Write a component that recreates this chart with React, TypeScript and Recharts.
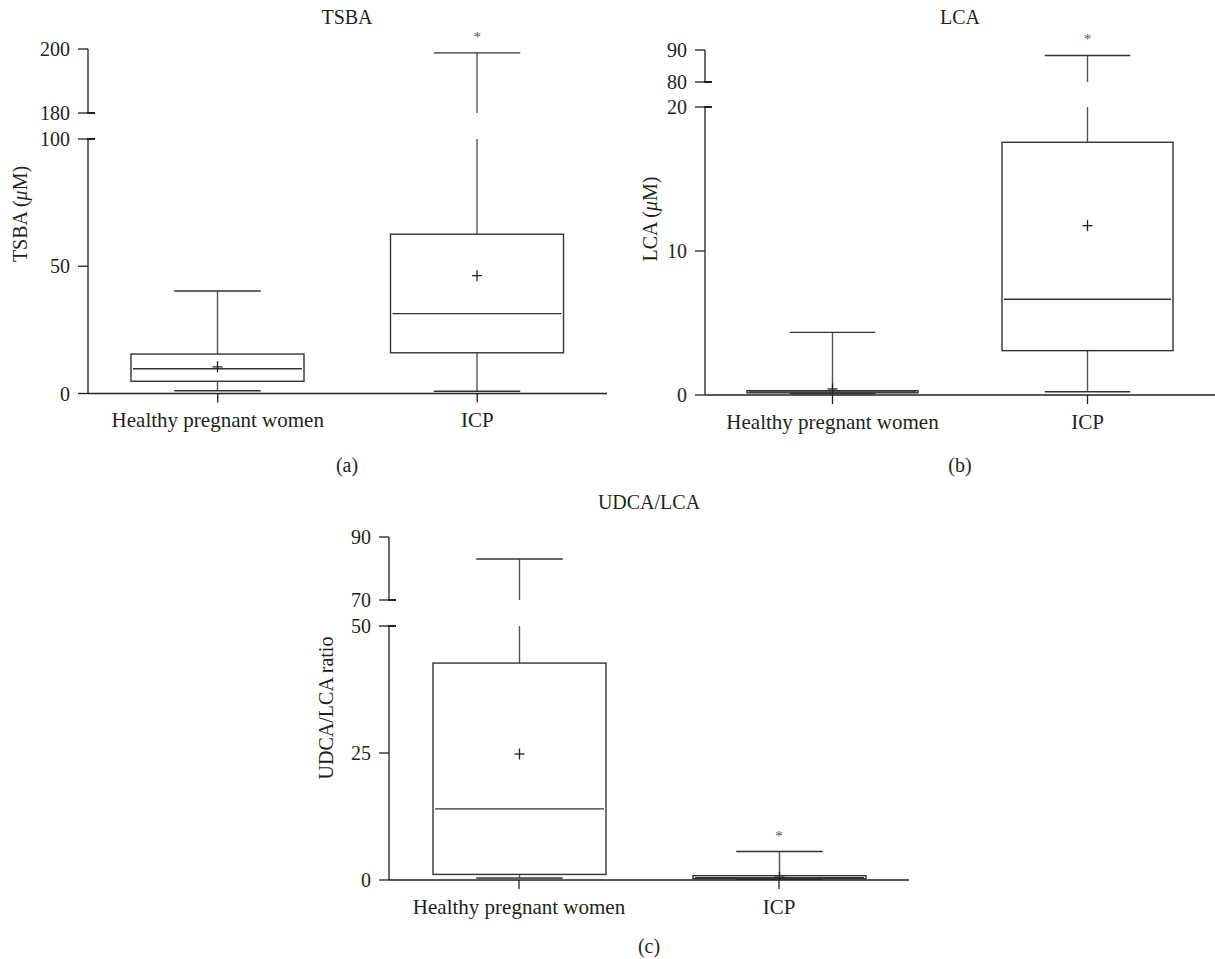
import React from 'react';
import { ComposedChart, Bar, XAxis, YAxis, ReferenceDot } from 'recharts';

// ---------- data ----------
const categories = ['Healthy pregnant women', 'ICP'];

// (a) TSBA (µM)
const tsbaMin = [1.1, 0.9];
const tsbaQ1 = [4.8, 16.0];
const tsbaMedian = [9.7, 31.4];
const tsbaQ3 = [15.5, 62.6];
const tsbaMax = [40.3, 198.8];
const tsbaMean = [10.5, 46.3];
const tsbaLowerTicks = [0, 50, 100];
const tsbaUpperTicks = [180, 200];
const tsbaStars = ['ICP'];

// (b) LCA (µM)
const lcaMin = [0.1, 0.23];
const lcaQ1 = [0.15, 3.08];
const lcaMedian = [0.22, 6.65];
const lcaQ3 = [0.3, 17.55];
const lcaMax = [4.35, 88.3];
const lcaMean = [0.42, 11.76];
const lcaLowerTicks = [0, 10, 20];
const lcaUpperTicks = [80, 90];
const lcaStars = ['ICP'];

// (c) UDCA/LCA ratio
const ratioMin = [0.4, 0.08];
const ratioQ1 = [1.1, 0.25];
const ratioMedian = [14.0, 0.45];
const ratioQ3 = [42.7, 0.85];
const ratioMax = [83, 5.6];
const ratioMean = [24.8, 0.55];
const ratioLowerTicks = [0, 25, 50];
const ratioUpperTicks = [70, 90];
const ratioStars = ['ICP'];

// ---------- styling ----------
const FONT = '"Liberation Serif", "DejaVu Serif", serif';
const INK = '#231f20';
const BOX = '#333333';
const WHISK = '#555555';

type Row = {
  name: string;
  range: [number, number];
  min: number;
  q1: number;
  median: number;
  q3: number;
  max: number;
  mean: number;
};

function buildRows(
  min: number[], q1: number[], median: number[], q3: number[], max: number[], mean: number[]
): Row[] {
  return categories.map((name, i) => ({
    name,
    range: [min[i], max[i]],
    min: min[i],
    q1: q1[i],
    median: median[i],
    q3: q3[i],
    max: max[i],
    mean: mean[i],
  }));
}

function BoxShape(props: any) {
  const { x, y, width, height, payload } = props;
  if (x == null || y == null || !payload) return null;
  const { min, q1, median, q3, max, mean } = payload as Row;
  const span = max - min;
  // linear scale recovered from the library's own pixel positions of min and max
  const py = (v: number) => y + ((max - v) / span) * height;
  const cx = x + width / 2;
  const cap = width / 4;
  const sw = 1.4;
  return (
    <g>
      <line x1={cx} x2={cx} y1={py(max)} y2={py(q3)} stroke={WHISK} strokeWidth={sw} />
      <line x1={cx - cap} x2={cx + cap} y1={py(max)} y2={py(max)} stroke={BOX} strokeWidth={sw} />
      <line x1={cx} x2={cx} y1={py(q1)} y2={py(min)} stroke={WHISK} strokeWidth={sw} />
      <line x1={cx - cap} x2={cx + cap} y1={py(min)} y2={py(min)} stroke={BOX} strokeWidth={sw} />
      <rect
        x={x}
        y={py(q3)}
        width={width}
        height={Math.max(py(q1) - py(q3), 0.5)}
        fill="#ffffff"
        stroke={BOX}
        strokeWidth={sw}
      />
      <line x1={x + 2} x2={x + width - 2} y1={py(median)} y2={py(median)} stroke={BOX} strokeWidth={sw} />
      <line x1={cx - 5} x2={cx + 5} y1={py(mean)} y2={py(mean)} stroke={INK} strokeWidth={1.3} />
      <line x1={cx} x2={cx} y1={py(mean) - 5.5} y2={py(mean) + 5.5} stroke={INK} strokeWidth={1.3} />
    </g>
  );
}

const YW = 60;
const ML = 10;
const AXIS_X = ML + YW;

const makeYTick = (breakVal: number) => (props: any) => {
  const { x, y, payload } = props;
  return (
    <g>
      <text x={x} y={y} dy="0.36em" textAnchor="end" fontFamily={FONT} fontSize={20} fill={INK}>
        {payload.value}
      </text>
      {payload.value === breakVal ? (
        <line x1={AXIS_X - 1} x2={AXIS_X + 7} y1={y} y2={y} stroke={INK} strokeWidth={2} />
      ) : null}
    </g>
  );
};

const StarShape = (p: any) => (
  <text x={p.cx} y={p.cy - 11} textAnchor="middle" fontFamily={FONT} fontSize={15} fill="#555">
    *
  </text>
);

type PanelProps = {
  rows: Row[];
  plotLeft: number;
  plotRight: number;
  upperTop: number;
  upperBottom: number;
  lowerTop: number;
  lowerBottom: number;
  upperDomain: [number, number];
  lowerDomain: [number, number];
  upperTicks: number[];
  lowerTicks: number[];
  stars: string[];
  boxWidth: number;
};

function BrokenBoxPanel(p: PanelProps) {
  const chartLeft = p.plotLeft - YW - ML;
  const width = p.plotRight - chartLeft;
  const UT = 30;
  const UB = 13;
  const upperH = UT + (p.upperBottom - p.upperTop) + UB;
  const LT = 11;
  const XH = 56;
  const lowerH = LT + (p.lowerBottom - p.lowerTop) + XH;

  const starsUpper = p.stars.filter((c) => {
    const r = p.rows.find((row) => row.name === c);
    return r && r.max >= p.upperDomain[0];
  });
  const starsLower = p.stars.filter((c) => !starsUpper.includes(c));

  const axisLine = { stroke: INK, strokeWidth: 1.3 };
  const tickLine = { stroke: INK, strokeWidth: 1.3 };

  return (
    <>
      <div style={{ position: 'absolute', left: chartLeft, top: p.upperTop - UT }}>
        <ComposedChart
          width={width}
          height={upperH}
          data={p.rows}
          margin={{ top: UT, right: 0, bottom: UB, left: ML }}
        >
          <XAxis dataKey="name" type="category" hide />
          <YAxis
            type="number"
            domain={p.upperDomain}
            ticks={p.upperTicks}
            allowDataOverflow
            interval={0}
            width={YW}
            tickSize={10}
            tickMargin={8}
            axisLine={axisLine}
            tickLine={tickLine}
            tick={makeYTick(p.upperDomain[0])}
          />
          <Bar dataKey="range" barSize={p.boxWidth} shape={<BoxShape />} isAnimationActive={false} />
          {starsUpper.map((c) => {
            const r = p.rows.find((row) => row.name === c)!;
            return <ReferenceDot key={c} x={c} y={r.max} r={0} ifOverflow="visible" shape={StarShape} />;
          })}
        </ComposedChart>
      </div>
      <div style={{ position: 'absolute', left: chartLeft, top: p.lowerTop - LT }}>
        <ComposedChart
          width={width}
          height={lowerH}
          data={p.rows}
          margin={{ top: LT, right: 0, bottom: 0, left: ML }}
        >
          <XAxis
            dataKey="name"
            type="category"
            interval={0}
            height={XH}
            tickSize={9}
            tickMargin={10}
            axisLine={axisLine}
            tickLine={tickLine}
            tick={{ fontFamily: FONT, fontSize: 21, fill: INK }}
          />
          <YAxis
            type="number"
            domain={p.lowerDomain}
            ticks={p.lowerTicks}
            allowDataOverflow
            interval={0}
            width={YW}
            tickSize={10}
            tickMargin={8}
            axisLine={axisLine}
            tickLine={tickLine}
            tick={makeYTick(p.lowerDomain[1])}
          />
          <Bar dataKey="range" barSize={p.boxWidth} shape={<BoxShape />} isAnimationActive={false} />
          {starsLower.map((c) => {
            const r = p.rows.find((row) => row.name === c)!;
            return <ReferenceDot key={c} x={c} y={r.max} r={0} ifOverflow="visible" shape={StarShape} />;
          })}
        </ComposedChart>
      </div>
    </>
  );
}

const tsbaRows = buildRows(tsbaMin, tsbaQ1, tsbaMedian, tsbaQ3, tsbaMax, tsbaMean);
const lcaRows = buildRows(lcaMin, lcaQ1, lcaMedian, lcaQ3, lcaMax, lcaMean);
const ratioRows = buildRows(ratioMin, ratioQ1, ratioMedian, ratioQ3, ratioMax, ratioMean);

const textStyle = { fontFamily: FONT, fontSize: 20, fill: INK } as const;

export default function App() {
  return (
    <div
      style={{
        position: 'absolute',
        left: 0,
        top: 0,
        width: 1215,
        height: 959,
        overflow: 'hidden',
        background: '#ffffff',
      }}
    >
      <svg width={1215} height={959} style={{ position: 'absolute', left: 0, top: 0 }}>
        <text x={347} y={17} textAnchor="middle" dominantBaseline="central" {...textStyle}>TSBA</text>
        <text x={960} y={17} textAnchor="middle" dominantBaseline="central" {...textStyle}>LCA</text>
        <text x={649} y={502} textAnchor="middle" dominantBaseline="central" {...textStyle}>UDCA/LCA</text>
        <text x={347} y={465} textAnchor="middle" dominantBaseline="central" {...textStyle}>(a)</text>
        <text x={960} y={465} textAnchor="middle" dominantBaseline="central" {...textStyle}>(b)</text>
        <text x={649} y={946} textAnchor="middle" dominantBaseline="central" {...textStyle}>(c)</text>
        <text
          x={20}
          y={214}
          textAnchor="middle"
          dominantBaseline="central"
          transform="rotate(-90 20 214)"
          {...textStyle}
        >
          TSBA (<tspan fontStyle="italic">μ</tspan>M)
        </text>
        <text
          x={650}
          y={219}
          textAnchor="middle"
          dominantBaseline="central"
          transform="rotate(-90 650 219)"
          {...textStyle}
        >
          LCA (<tspan fontStyle="italic">μ</tspan>M)
        </text>
        <text
          x={326}
          y={708}
          textAnchor="middle"
          dominantBaseline="central"
          transform="rotate(-90 326 708)"
          {...textStyle}
        >
          UDCA/LCA ratio
        </text>
      </svg>

      <BrokenBoxPanel
        rows={tsbaRows}
        plotLeft={88}
        plotRight={607}
        upperTop={49}
        upperBottom={113}
        lowerTop={139}
        lowerBottom={393.5}
        upperDomain={[180, 200]}
        lowerDomain={[0, 100]}
        upperTicks={tsbaUpperTicks}
        lowerTicks={tsbaLowerTicks}
        stars={tsbaStars}
        boxWidth={173}
      />
      <BrokenBoxPanel
        rows={lcaRows}
        plotLeft={705}
        plotRight={1215}
        upperTop={50}
        upperBottom={82}
        lowerTop={107}
        lowerBottom={395}
        upperDomain={[80, 90]}
        lowerDomain={[0, 20]}
        upperTicks={lcaUpperTicks}
        lowerTicks={lcaLowerTicks}
        stars={lcaStars}
        boxWidth={171}
      />
      <BrokenBoxPanel
        rows={ratioRows}
        plotLeft={389}
        plotRight={909}
        upperTop={537}
        upperBottom={600}
        lowerTop={626}
        lowerBottom={880}
        upperDomain={[70, 90]}
        lowerDomain={[0, 50]}
        upperTicks={ratioUpperTicks}
        lowerTicks={ratioLowerTicks}
        stars={ratioStars}
        boxWidth={173}
      />
    </div>
  );
}
